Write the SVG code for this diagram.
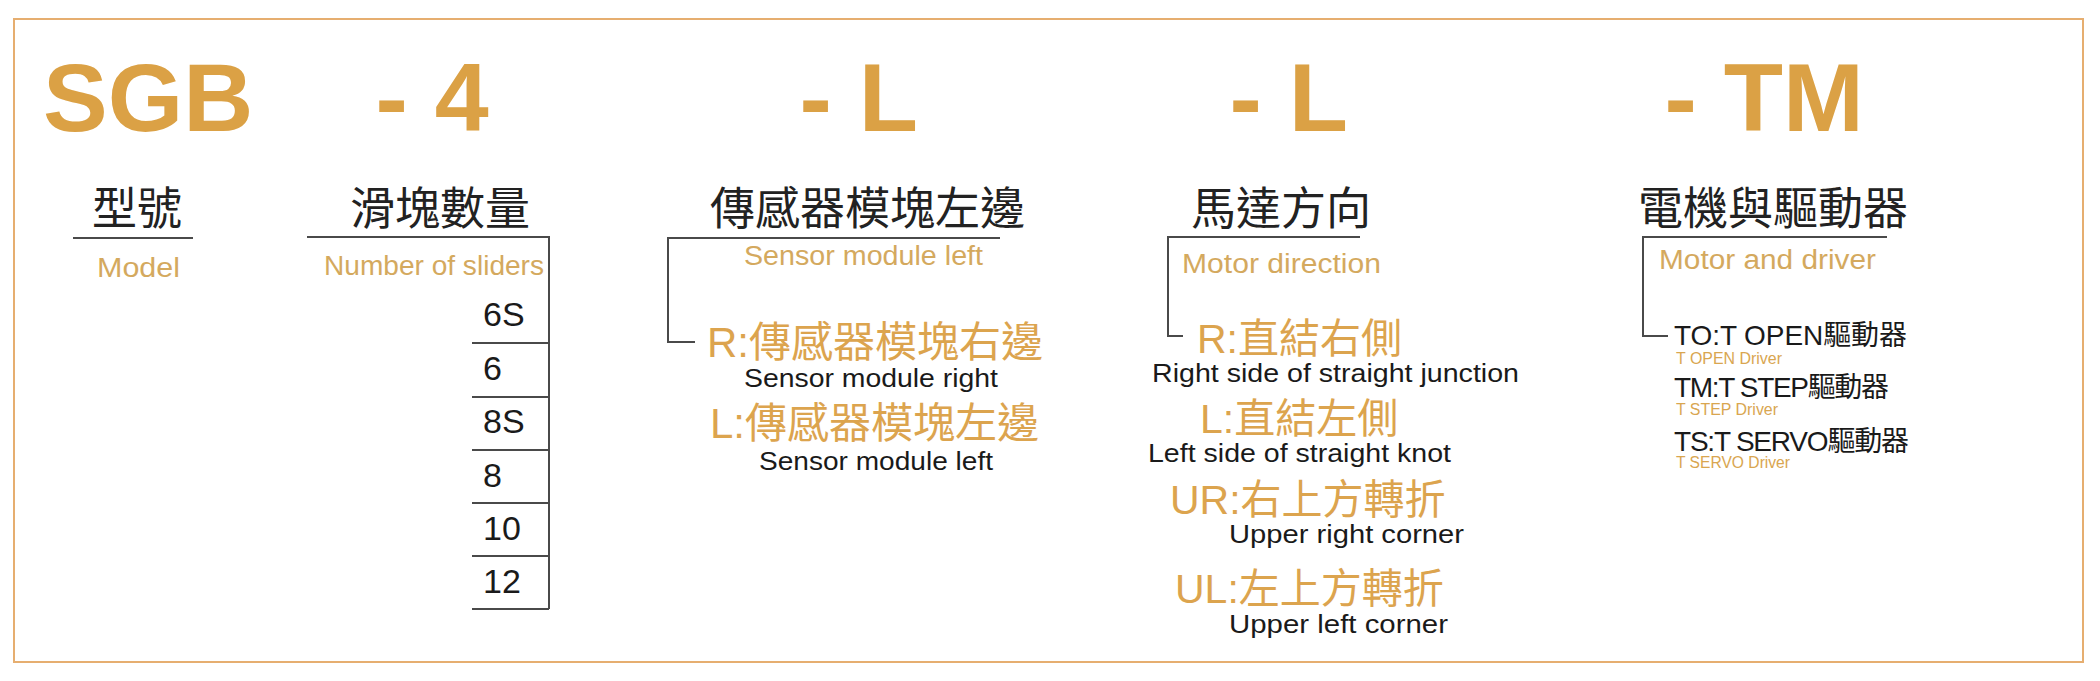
<svg xmlns="http://www.w3.org/2000/svg" width="2100" height="681" viewBox="0 0 2100 681">
<style>
.hd{font-family:"Liberation Sans",Arial,sans-serif;font-weight:bold;font-size:97px;fill:#DBA145}
.cn{font-family:"Noto Sans CJK TC","Noto Sans CJK SC",sans-serif;font-size:45px;fill:#222}
.sub{font-family:"Liberation Sans",Arial,sans-serif;font-size:27px;fill:#D4A95E}
.opt{font-family:"Liberation Sans","Noto Sans CJK TC",sans-serif;font-size:42px;fill:#DCA44E}
.en{font-family:"Liberation Sans",Arial,sans-serif;font-size:25px;fill:#1a1a1a}
.num{font-family:"Liberation Sans",Arial,sans-serif;font-size:34px;fill:#1a1a1a}
.drv{font-family:"Liberation Sans","Noto Sans CJK TC",sans-serif;font-size:28px;fill:#1a1a1a}
.sm{font-family:"Liberation Sans",Arial,sans-serif;font-size:16px;fill:#D9A650}
.ln{fill:none;stroke:#4a4a4a;stroke-width:2}
</style>
<rect width="2100" height="681" fill="#ffffff"/>
<rect id="frame" x="14" y="19" width="2069" height="643" fill="none" stroke="#E6AE70" stroke-width="2"/>
<g id="connectors">
<line class="ln" x1="73" y1="238" x2="193" y2="238"/>
<path class="ln" d="M307 237 H549 V609"/>
<path class="ln" d="M472 343 H549 M472 397 H549 M472 450 H549 M472 503 H549 M472 556 H549 M472 609 H549"/>
<path class="ln" d="M1000 238 H668 V342 H695"/>
<path class="ln" d="M1360 237 H1168 V336 H1183"/>
<path class="ln" d="M1887 237 H1643 V336 H1668"/>
</g>
<g id="model">
<text class="hd" x="43" y="131">SGB</text>
<text class="cn" x="92" y="225">型號</text>
<text class="sub" x="97" y="277" textLength="83" lengthAdjust="spacingAndGlyphs">Model</text>
</g>
<g id="sliders">
<text class="hd" x="375.6" y="131">- 4</text>
<text class="cn" x="350" y="225">滑塊數量</text>
<text class="sub" x="324" y="275" textLength="220" lengthAdjust="spacingAndGlyphs">Number of sliders</text>
<text class="num" x="483" y="326">6S</text>
<text class="num" x="483" y="380">6</text>
<text class="num" x="483" y="433">8S</text>
<text class="num" x="483" y="487">8</text>
<text class="num" x="483" y="540">10</text>
<text class="num" x="483" y="593">12</text>
</g>
<g id="sensor">
<text class="hd" x="799.6" y="131">- L</text>
<text class="cn" x="710" y="225">傳感器模塊左邊</text>
<text class="sub" x="744" y="265" textLength="239" lengthAdjust="spacingAndGlyphs">Sensor module left</text>
<text class="opt" x="707" y="357">R:傳感器模塊右邊</text>
<text class="en" x="744" y="387" textLength="254" lengthAdjust="spacingAndGlyphs">Sensor module right</text>
<text class="opt" x="710" y="438">L:傳感器模塊左邊</text>
<text class="en" x="759" y="470" textLength="234" lengthAdjust="spacingAndGlyphs">Sensor module left</text>
</g>
<g id="motor-direction">
<text class="hd" x="1229.6" y="131">- L</text>
<text class="cn" x="1191" y="225">馬達方向</text>
<text class="sub" x="1182" y="273" textLength="199" lengthAdjust="spacingAndGlyphs">Motor direction</text>
<text class="opt" x="1197" y="353" style="font-size:41px">R:直結右側</text>
<text class="en" x="1152" y="382" textLength="367" lengthAdjust="spacingAndGlyphs">Right side of straight junction</text>
<text class="opt" x="1200" y="433" style="font-size:41px">L:直結左側</text>
<text class="en" x="1148" y="462" textLength="303" lengthAdjust="spacingAndGlyphs">Left side of straight knot</text>
<text class="opt" x="1170" y="514" style="font-size:41px">UR:右上方轉折</text>
<text class="en" x="1229" y="543" textLength="235" lengthAdjust="spacingAndGlyphs">Upper right corner</text>
<text class="opt" x="1175" y="603" style="font-size:41px">UL:左上方轉折</text>
<text class="en" x="1229" y="633" textLength="219" lengthAdjust="spacingAndGlyphs">Upper left corner</text>
</g>
<g id="motor-driver">
<text class="hd" x="1664.6" y="131">- TM</text>
<text class="cn" x="1638" y="225">電機與驅動器</text>
<text class="sub" x="1659" y="269" textLength="217" lengthAdjust="spacingAndGlyphs">Motor and driver</text>
<text class="drv" x="1674" y="345" textLength="233">TO:T OPEN驅動器</text>
<text class="sm" x="1676" y="364" textLength="106" lengthAdjust="spacingAndGlyphs">T OPEN Driver</text>
<text class="drv" x="1674" y="397" textLength="215">TM:T STEP驅動器</text>
<text class="sm" x="1676" y="415" textLength="102" lengthAdjust="spacingAndGlyphs">T STEP Driver</text>
<text class="drv" x="1674" y="451" textLength="235">TS:T SERVO驅動器</text>
<text class="sm" x="1676" y="468" textLength="114" lengthAdjust="spacingAndGlyphs">T SERVO Driver</text>
</g>
</svg>
